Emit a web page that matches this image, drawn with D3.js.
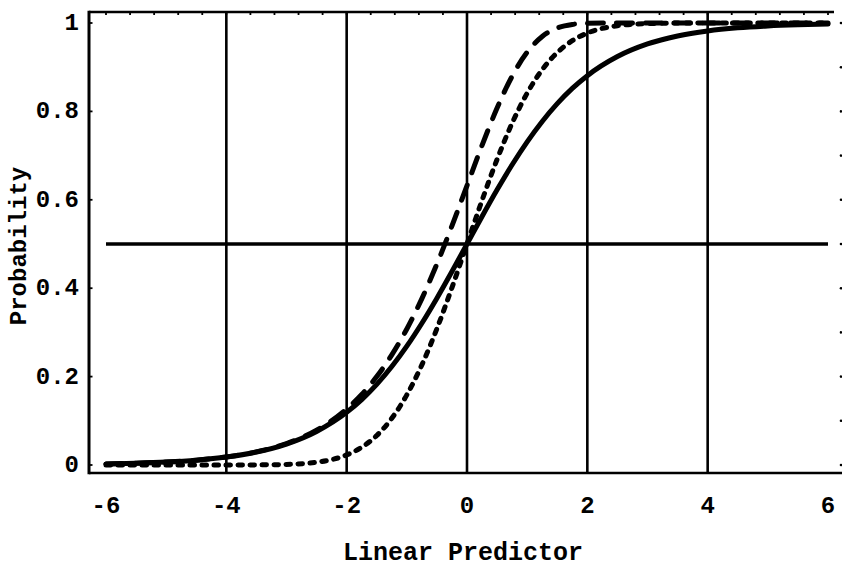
<!DOCTYPE html>
<html>
<head>
<meta charset="utf-8">
<script src="https://cdn.jsdelivr.net/npm/d3@7/dist/d3.min.js"></script>
<style>
  html, body { margin: 0; padding: 0; background: #fff; }
  svg { display: block; }
  text { font-family: "Liberation Mono", "DejaVu Sans Mono", monospace; font-weight: bold; fill: #000; }
</style>
</head>
<body>
<svg id="chart" width="842" height="568"></svg>
<script>
// Linear predictor grid
const xValues = [-6, -5.5, -5, -4.5, -4, -3.5, -3, -2.5, -2, -1.75, -1.5, -1.25, -1, -0.75, -0.5, -0.25,
                 0, 0.25, 0.5, 0.75, 1, 1.25, 1.5, 1.75, 2, 2.5, 3, 3.5, 4, 4.5, 5, 5.5, 6];
// Logit link (solid)
const logitValues = [0.0025, 0.0041, 0.0067, 0.0110, 0.0180, 0.0293, 0.0474, 0.0759, 0.1192, 0.1480, 0.1824,
                     0.2227, 0.2689, 0.3208, 0.3775, 0.4378, 0.5, 0.5622, 0.6225, 0.6792, 0.7311, 0.7773,
                     0.8176, 0.8520, 0.8808, 0.9241, 0.9526, 0.9707, 0.9820, 0.9890, 0.9933, 0.9959, 0.9975];
// Probit link (short dashes)
const probitValues = [0, 0, 0, 0, 0, 0.0002, 0.0013, 0.0062, 0.0228, 0.0401, 0.0668, 0.1056, 0.1587, 0.2266,
                      0.3085, 0.4013, 0.5, 0.5987, 0.6915, 0.7734, 0.8413, 0.8944, 0.9332, 0.9599, 0.9772,
                      0.9938, 0.9987, 0.9998, 1, 1, 1, 1, 1];
// Complementary log-log link (long dashes)
const cloglogValues = [0.0025, 0.0041, 0.0067, 0.0110, 0.0181, 0.0297, 0.0486, 0.0788, 0.1266, 0.1595, 0.2000,
                       0.2491, 0.3078, 0.3765, 0.4548, 0.5411, 0.6321, 0.7231, 0.8077, 0.8796, 0.9340, 0.9695,
                       0.9887, 0.9968, 0.9994, 1, 1, 1, 1, 1, 1, 1, 1];
const xTicks = [-6, -4, -2, 0, 2, 4, 6];
const xTickLabels = ["-6", "-4", "-2", "0", "2", "4", "6"];
const yTicks = [0, 0.2, 0.4, 0.6, 0.8, 1];
const yTickLabels = ["0", "0.2", "0.4", "0.6", "0.8", "1"];
const gridX = [-4, -2, 0, 2, 4];
const halfLine = [0.5, 0.5];
const halfLineX = [-6, 6];

const svg = d3.select("#chart");
const frame = { left: 89, right: 840, top: 12, bottom: 473 };

const x = d3.scaleLinear().domain([-6, 6]).range([106, 828]);
const y = d3.scaleLinear().domain([0, 1]).range([465, 23]);

// vertical grid lines
svg.append("g").selectAll("line").data(gridX).join("line")
  .attr("x1", d => x(d)).attr("x2", d => x(d))
  .attr("y1", frame.top).attr("y2", frame.bottom)
  .attr("stroke", "#000").attr("stroke-width", 2.6);

// frame: left, top, bottom
svg.append("line").attr("x1", frame.left).attr("x2", frame.left)
  .attr("y1", frame.top - 1.2).attr("y2", frame.bottom + 1.2)
  .attr("stroke", "#000").attr("stroke-width", 3);
svg.append("line").attr("x1", frame.left).attr("x2", 834)
  .attr("y1", frame.top).attr("y2", frame.top)
  .attr("stroke", "#000").attr("stroke-width", 2.6);
svg.append("line").attr("x1", frame.left).attr("x2", 842)
  .attr("y1", frame.bottom).attr("y2", frame.bottom)
  .attr("stroke", "#000").attr("stroke-width", 2.6);

// inward frame ticks
const minorX = d3.range(-6, 6.001, 0.4);
svg.append("g").selectAll("line").data(minorX).join("line")
  .attr("x1", d => x(d)).attr("x2", d => x(d))
  .attr("y1", frame.top).attr("y2", frame.top + 3)
  .attr("stroke", "#000").attr("stroke-width", 1.8);
svg.append("g").selectAll("line").data(yTicks).join("line")
  .attr("x1", frame.left).attr("x2", frame.left + 3.5)
  .attr("y1", d => y(d)).attr("y2", d => y(d))
  .attr("stroke", "#000").attr("stroke-width", 1.8);
svg.append("g").selectAll("circle").data(yTicks.concat([0.1, 0.3, 0.5, 0.7, 0.9])).join("circle")
  .attr("cx", 841).attr("cy", d => y(d)).attr("r", 1.3).attr("fill", "#000");

// horizontal reference line at 0.5
svg.append("path")
  .datum(halfLineX.map((v, i) => [v, halfLine[i]]))
  .attr("d", d3.line().x(d => x(d[0])).y(d => y(d[1])))
  .attr("stroke", "#000").attr("stroke-width", 3.4).attr("fill", "none");

const line = d3.line().x(d => x(d[0])).y(d => y(d[1])).curve(d3.curveMonotoneX);
const series = [
  { values: cloglogValues, dash: "16,13" },
  { values: probitValues, dash: "4.5,7.5" },
  { values: logitValues, dash: null }
];
series.forEach(s => {
  svg.append("path")
    .datum(xValues.map((v, i) => [v, s.values[i]]))
    .attr("d", line)
    .attr("fill", "none").attr("stroke", "#000")
    .attr("stroke-width", 5)
    .attr("stroke-linecap", "round")
    .attr("stroke-dasharray", s.dash);
});

// tick labels
svg.append("g").selectAll("text").data(xTicks).join("text")
  .attr("x", d => x(d)).attr("y", 513)
  .attr("text-anchor", "middle").attr("font-size", 24)
  .text((d, i) => xTickLabels[i]);
svg.append("g").selectAll("text").data(yTicks).join("text")
  .attr("x", 79).attr("y", d => y(d) + 7)
  .attr("text-anchor", "end").attr("font-size", 24)
  .text((d, i) => yTickLabels[i]);

// axis titles
svg.append("text").attr("x", 463).attr("y", 560)
  .attr("text-anchor", "middle").attr("font-size", 25)
  .text("Linear Predictor");
svg.append("text")
  .attr("transform", "translate(26,246) rotate(-90)")
  .attr("text-anchor", "middle").attr("font-size", 24)
  .text("Probability");
</script>
</body>
</html>
